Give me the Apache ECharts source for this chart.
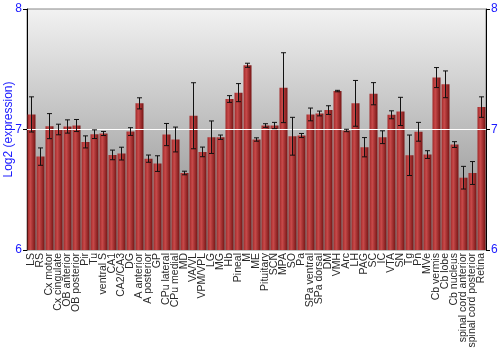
<!DOCTYPE html>
<html>
<head>
<meta charset="utf-8">
<script src="https://cdn.jsdelivr.net/npm/echarts@6/dist/echarts.min.js"></script>
<style>html,body{margin:0;padding:0;background:#fff}#c{width:500px;height:350px}</style>
</head>
<body>
<div id="c"></div>
<script>
const categories = ["LS","RS","Cx motor","Cx cingulate","OB anterior","OB posterior","Pir","Tu","ventral S","CA1","CA2/CA3","DG","A anterior","A posterior","GP","CPu lateral","CPu medial","MD","VA/VL","VPM/VPL","LG","MG","Hb","Pineal","M","ME","Pituitary","SCN","MPA","SO","Pa","SPa ventral","SPa dorsal","DM","VMH","Arc","LH","PAG","SC","IC","VTA","SN","Tg","Pn","MVe","Cb vermis","Cb lobe","Cb nucleus","spinal cord anterior","spinal cord posterior","Retina"];
const values = [7.125,6.775,7.028,7.0,7.025,7.033,6.897,6.961,6.967,6.789,6.8,6.983,7.217,6.758,6.717,6.958,6.917,6.639,7.114,6.814,6.936,6.936,7.253,7.306,7.533,6.917,7.033,7.033,7.347,6.944,6.95,7.125,7.133,7.161,7.319,6.992,7.217,6.853,7.297,6.936,7.122,7.15,6.786,6.981,6.792,7.431,7.375,6.875,6.6,6.639,7.186];
const errors = [0.146,0.072,0.104,0.044,0.055,0.05,0.05,0.036,0.017,0.04,0.053,0.032,0.046,0.03,0.065,0.092,0.103,0.015,0.274,0.04,0.135,0.018,0.028,0.075,0.017,0.014,0.015,0.026,0.29,0.157,0.017,0.053,0.02,0.036,0.006,0.01,0.19,0.08,0.092,0.053,0.033,0.117,0.168,0.078,0.032,0.083,0.111,0.024,0.094,0.095,0.085];
const yTicks = [6,7,8];

const errData = values.map((v,i)=>[i, v-errors[i], v+errors[i]]);
const chart = echarts.init(document.getElementById('c'));
const blue = '#1a1aff';
const font = 'Liberation Sans, Arial, sans-serif';
chart.setOption({
  animation:false,
  grid:{left:27,right:14,top:9,bottom:100,outerBoundsMode:'none',containLabel:false,show:true,borderWidth:1,borderColor:'#888',
    backgroundColor:new echarts.graphic.LinearGradient(0,0,0,1,[{offset:0,color:'#f2f2f2'},{offset:1,color:'#858585'}])},
  xAxis:{type:'category',data:categories,axisLine:{show:false},axisTick:{show:false},
    axisLabel:{rotate:90,interval:0,fontSize:10.5,color:'#2a2a2a',fontFamily:font,margin:3}},
  yAxis:[
    {type:'value',min:6,max:8,interval:1,position:'left',
     name:'Log2 (expression)',nameLocation:'middle',nameGap:12,nameMoveOverlap:false,
     nameTextStyle:{color:blue,fontSize:12,fontFamily:font},
     axisLine:{show:true,lineStyle:{color:'#000'}},axisTick:{show:true,length:4,lineStyle:{color:'#000'}},
     axisLabel:{color:blue,fontSize:12,fontFamily:font,margin:5,formatter:v=>yTicks.includes(v)?String(v):''},
     splitLine:{show:false}},
    {type:'value',min:6,max:8,interval:1,position:'right',
     axisLine:{show:true,lineStyle:{color:'#000'}},axisTick:{show:true,length:4,lineStyle:{color:'#000'}},
     axisLabel:{color:blue,fontSize:12,fontFamily:font,margin:5},
     splitLine:{show:false}}
  ],
  series:[
    {type:'bar',data:values,barCategoryGap:'11%',clip:true,
     itemStyle:{color:new echarts.graphic.LinearGradient(0,0,1,0,[{offset:0,color:'#a02828'},{offset:0.35,color:'#c84a4a'},{offset:1,color:'#761414'}])},
     markLine:{silent:true,symbol:'none',label:{show:false},lineStyle:{color:'#fff',type:'solid',width:1.2},data:[{yAxis:7}]}},
    {type:'custom',data:errData,z:5,
     renderItem:function(params,api){
       const lo=api.coord([api.value(0),api.value(1)]);
       const hi=api.coord([api.value(0),api.value(2)]);
       const w=2.5;
       const st={stroke:'#111',lineWidth:1};
       return {type:'group',children:[
         {type:'line',shape:{x1:lo[0],y1:lo[1],x2:hi[0],y2:hi[1]},style:st},
         {type:'line',shape:{x1:lo[0]-w,y1:lo[1],x2:lo[0]+w,y2:lo[1]},style:st},
         {type:'line',shape:{x1:hi[0]-w,y1:hi[1],x2:hi[0]+w,y2:hi[1]},style:st}
       ]};
     }}
  ]
});
</script>
</body>
</html>
